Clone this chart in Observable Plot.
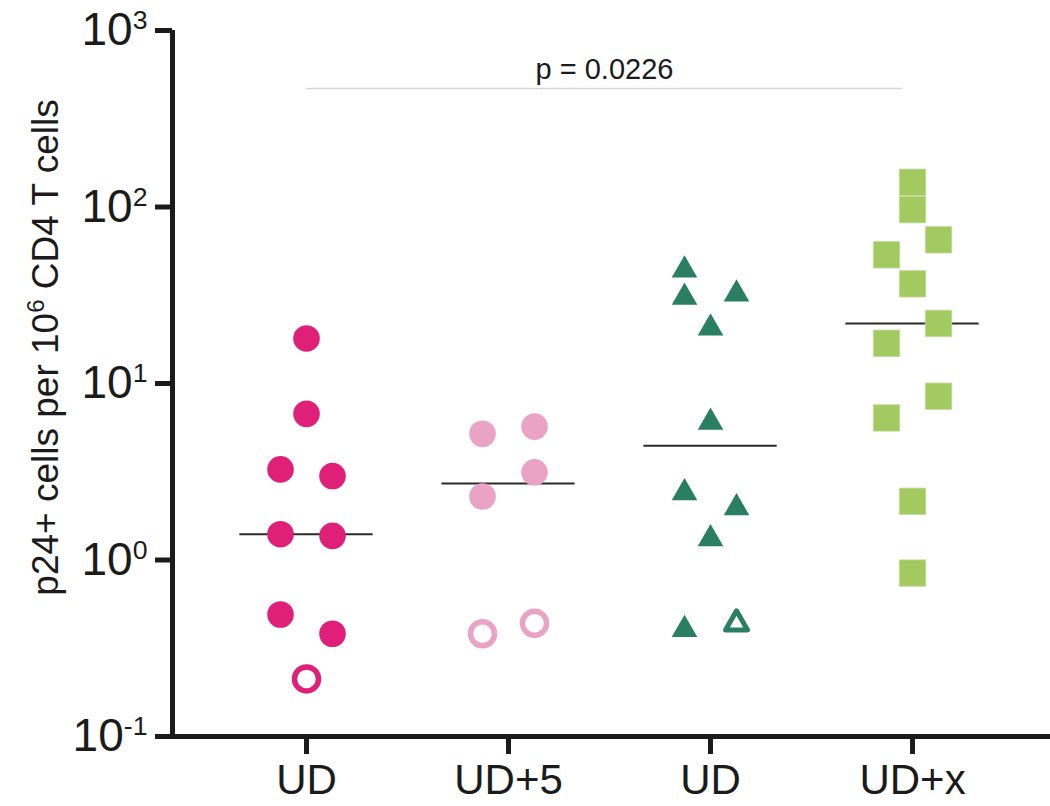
<!DOCTYPE html>
<html><head><meta charset="utf-8">
<script src="https://cdn.jsdelivr.net/npm/d3@7"></script>
<script src="https://cdn.jsdelivr.net/npm/@observablehq/plot@0.6"></script>
<style>body{margin:0;background:#fff;}</style>
</head><body><div id="chart"></div>
<script>
// ---- data ----
const groups = ["UD", "UD+5", "UD", "UD+x"];
const yTicks = [0.1, 1, 10, 100, 1000];
const yTitle = "p24+ cells per 10^6 CD4 T cells";
const pLabel = "p = 0.0226";

const g1Values = [18.0, 6.73, 3.26, 2.99, 1.40, 1.37, 0.491, 0.382, 0.212];
const g1Slots  = [0, 0, -1, 1, -1, 1, -1, 1, 0];
const g1Open   = [0, 0, 0, 0, 0, 0, 0, 0, 1];

const g2Values = [5.19, 5.70, 3.14, 2.29, 0.382, 0.438];
const g2Slots  = [-1, 1, 1, -1, -1, 1];
const g2Open   = [0, 0, 0, 0, 1, 1];

const g3Values = [46.3, 32.4, 33.8, 21.7, 6.35, 2.53, 2.08, 1.39, 0.425, 0.454];
const g3Slots  = [-1, -1, 1, 0, 0, -1, 1, 0, -1, 1];
const g3Open   = [0, 0, 0, 0, 0, 0, 0, 0, 0, 1];

const g4Values = [138, 96.6, 65.2, 53.6, 36.7, 21.9, 16.9, 8.47, 6.38, 2.15, 0.843];
const g4Slots  = [0, 0, 1, -1, 0, 1, -1, 1, -1, 0, 0];
const g4Open   = [0, 0, 0, 0, 0, 0, 0, 0, 0, 0, 0];

const colors = ["#E01F79", "#EAA3C5", "#2A7E62", "#A3C961"];

// ---- build table ----
const SP = 0.1287; // horizontal jitter step (x units)
function rows(g, vals, slots, open) {
  return vals.map((v, i) => ({g, v, slot: slots[i], open: !!open[i]}));
}
const d1 = rows(1, g1Values, g1Slots, g1Open);
const d2 = rows(2, g2Values, g2Slots, g2Open);
const d3r = rows(3, g3Values, g3Slots, g3Open);
const d4 = rows(4, g4Values, g4Slots, g4Open);
const medians = [g1Values, g2Values, g3Values, g4Values].map((vs, i) => ({g: i + 1, m: d3.median(vs)}));
const px = d => d.g + d.slot * SP;

const xLo = 0.3366, xHi = 4.683;
const font = "'Liberation Sans', Arial, Helvetica, sans-serif";
const ink = "#1b1b1b";

const svg = Plot.plot({
  width: 1050, height: 806,
  marginLeft: 172, marginRight: 0, marginTop: 30, marginBottom: 70,
  style: {fontFamily: font, color: ink, background: "white", overflow: "visible"},
  x: {type: "linear", domain: [xLo, xHi]},
  y: {type: "log", domain: [0.1, 1000]},
  marks: [
    // significance bar
    Plot.ruleY([469], {x1: 1, x2: 3.95, stroke: "#d6d6d6", strokeWidth: 1.5}),
    Plot.text([pLabel], {x: 2.475, y: 469, text: d => d, dy: -19, fontSize: 29, fill: ink}),
    // medians
    Plot.ruleY(medians, {y: "m", x1: d => d.g - 0.33, x2: d => d.g + 0.33, stroke: "#2a2a2a", strokeWidth: 2}),
    // group 1
    Plot.dot(d1.filter(d => !d.open), {x: px, y: "v", r: 13.3, fill: colors[0]}),
    Plot.dot(d1.filter(d => d.open), {x: px, y: "v", r: 12, fill: "none", stroke: colors[0], strokeWidth: 5.5}),
    // group 2
    Plot.dot(d2.filter(d => !d.open), {x: px, y: "v", r: 13.3, fill: colors[1]}),
    Plot.dot(d2.filter(d => d.open), {x: px, y: "v", r: 12, fill: "none", stroke: colors[1], strokeWidth: 5.5}),
    // group 3
    Plot.dot(d3r.filter(d => !d.open), {x: px, y: "v", symbol: "triangle", r: 9.5, dy: 4, fill: colors[2]}),
    Plot.dot(d3r.filter(d => d.open), {x: px, y: "v", symbol: "triangle2", r: 10.5, dy: 3, fill: "none", stroke: colors[2], strokeWidth: 5, strokeLinejoin: "round"}),
    // group 4
    Plot.dot(d4, {x: px, y: "v", symbol: "square", r: 14.9, fill: colors[3], stroke: "#c2db98", strokeWidth: 0.8}),
    // axes
    Plot.axisX({ticks: [1, 2, 3, 4], tickFormat: i => groups[i - 1], tickSize: 18, tickPadding: 10, strokeWidth: 5, fontSize: 42, label: null, stroke: ink}),
    Plot.axisY({ticks: yTicks, tickFormat: d => `10^${Math.round(Math.log10(d))}`, tickSize: 17, tickPadding: 8, strokeWidth: 5, fontSize: 46, label: null, stroke: ink}),
    Plot.ruleX([xLo], {y1: 0.1, y2: 1000, stroke: ink, strokeWidth: 5}),
    Plot.ruleY([0.1], {x1: xLo, x2: xHi, stroke: ink, strokeWidth: 5}),
    // y title
    Plot.text([yTitle], {frameAnchor: "left", text: d => d, rotate: -90, textAnchor: "middle", dx: -126, dy: -36, fontSize: 37, fill: ink})
  ]
});

// superscripts: "a^b rest" -> a + raised b + rest
function superscript(el, shiftPx, ratio) {
  const s = el.textContent;
  const m = s.match(/^(.*?)\^(-?\d+)(.*)$/);
  if (!m) return;
  const ns = "http://www.w3.org/2000/svg";
  const fs = parseFloat(getComputedStyle(el).fontSize) || 16;
  el.textContent = m[1];
  const sup = document.createElementNS(ns, "tspan");
  sup.setAttribute("dy", -shiftPx);
  sup.setAttribute("font-size", (fs * ratio).toFixed(1) + "px");
  sup.textContent = m[2];
  el.appendChild(sup);
  if (m[3]) {
    const rest = document.createElementNS(ns, "tspan");
    rest.setAttribute("dy", shiftPx);
    rest.textContent = m[3];
    el.appendChild(rest);
  }
}
document.getElementById("chart").appendChild(svg);
svg.querySelectorAll("text").forEach(t => {
  if (!t.textContent.includes("^")) return;
  if (t.textContent.startsWith("p24")) superscript(t, 14, 0.65);
  else superscript(t, 16, 0.58);
});
</script>
</body></html>
